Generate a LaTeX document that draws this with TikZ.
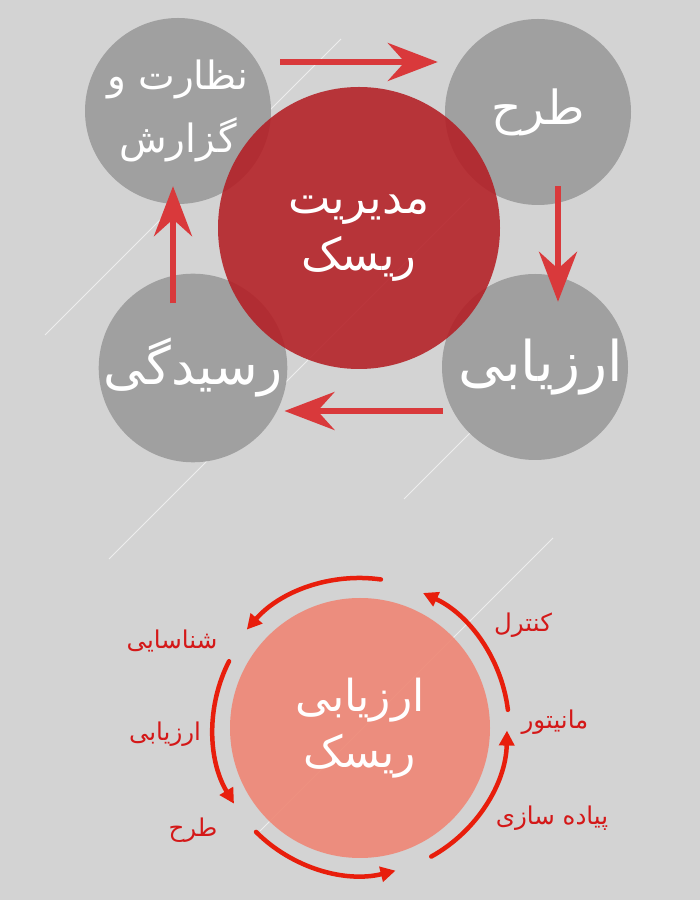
\documentclass[tikz,border=0pt]{standalone}
\usepackage{fontspec}
\newfontfamily\arabicfont[Script=Arabic]{DejaVu Sans}
\TeXXeTstate=1
\usetikzlibrary{arrows.meta}
\definecolor{bggray}{HTML}{D3D3D3}
\definecolor{circgray}{HTML}{A0A0A0}
\definecolor{riskred}{RGB}{180,30,36}
\definecolor{arrred}{RGB}{217,57,59}
\definecolor{salmon}{RGB}{239,134,117}
\definecolor{brushred}{RGB}{232,30,12}
\definecolor{labred}{RGB}{212,24,24}
\newcommand{\fa}[1]{{\arabicfont\beginR #1\endR}}

\begin{document}
\begin{tikzpicture}[x=1pt, y=1pt, align=center, text=white,
	stage/.style={circle, fill=circgray, minimum size=186pt, inner sep=0pt},
	arr/.style={line width=6pt, draw=arrred, -{Stealth[length=50pt, width=38pt, inset=17pt]}},
	brush/.style={line width=4.5pt, draw=brushred, line cap=round, -{Triangle[length=15pt, width=15pt]}},
	lab/.style={text=labred, font=\fontsize{24.5}{28}\selectfont},
	streak/.style={draw=white, opacity=0.6, line width=0.8pt}]
	\fill[bggray] (0,0) rectangle (700,900);
	\draw[streak] (45,565) -- (341,861);
	\draw[streak] (109,341) -- (470,702);
	\draw[streak] (404,401) -- (500,497);
	\draw[streak] (553,362) -- (260,69);
	%%%%%%%%%%%%%
	\node[stage, font=\fontsize{39}{63}\selectfont] (nazarat) at (178,789) {\fa{نظارت و}\\\fa{گزارش}};
	\node[stage, font=\fontsize{47}{52}\selectfont] (tarh) at (538,788) {\fa{طرح}};
	\node[stage, font=\fontsize{52}{52}\selectfont] (residegi) at (193,532) {\fa{رسیدگی}};
	\node[stage] (arzyabi) at (535,533) {};
	\node[font=\fontsize{56}{60}\selectfont] (arzyabi-text) at ([xshift=6pt]arzyabi.center) {\fa{ارزیابی}};
	\node[circle, fill=riskred, fill opacity=0.88, minimum size=282pt, inner sep=0pt] (risk) at (359,672) {};
	\node[font=\fontsize{45}{57}\selectfont] (risk-text) at ([yshift=-10pt]risk.center) {\fa{مدیریت}\\\fa{ریسک}};
	%%%%%%%%%%%%%
	\draw[arr, shorten <=9pt, shorten >=7pt] ([yshift=49pt]nazarat.east) -- ([yshift=50pt]tarh.west);
	\draw[arr, shorten <=-19pt, shorten >=-28pt] ([xshift=20pt]tarh.south) -- ([xshift=23pt]arzyabi.north);
	\draw[arr, shorten <=-1pt, shorten >=-3pt] ([yshift=-44pt]arzyabi.west) -- ([yshift=-43pt]residegi.east);
	\draw[arr, shorten <=-30pt, shorten >=-18pt] ([xshift=-20pt]residegi.north) -- ([xshift=-5pt]nazarat.south);
	%%%%%%%%%%%%%
	\node[circle, fill=salmon, fill opacity=0.9, text opacity=1, minimum size=260pt, inner sep=0pt,
		font=\fontsize{44}{56}\selectfont] (evalrisk) at (360,172) {\fa{ارزیابی}\\\fa{ریسک}};
	\draw[brush] ([shift={(82:150pt)}]evalrisk.center) arc (82:139:150pt);
	\draw[brush] ([shift={(153:147pt)}]evalrisk.center) arc (153:211:147pt);
	\draw[brush] ([shift={(225:147pt)}]evalrisk.center) arc (225:284:147pt);
	\draw[brush] ([shift={(299:147pt)}]evalrisk.center) arc (299:359:147pt);
	\draw[brush] ([shift={(7:149pt)}]evalrisk.center) arc (7:65:149pt);
	\node[lab] (shenasayi) at (172,259) {\fa{شناسایی}};
	\node[lab] (arzyabi2) at (165,166) {\fa{ارزیابی}};
	\node[lab] (tarh2) at (193,70) {\fa{طرح}};
	\node[lab] (kontrol) at (523,275) {\fa{کنترل}};
	\node[lab] (monitor) at (555,178) {\fa{مانیتور}};
	\node[lab] (piadesazi) at (552,82) {\fa{پیاده سازی}};
\end{tikzpicture}
\end{document}
